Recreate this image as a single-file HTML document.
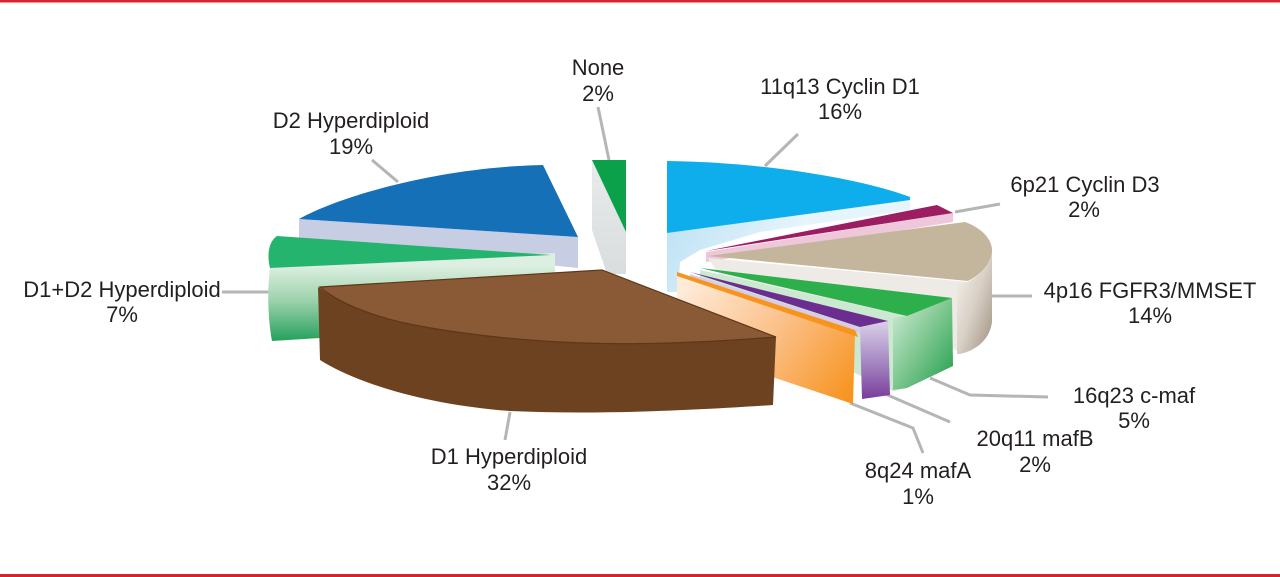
<!DOCTYPE html>
<html>
<head>
<meta charset="utf-8">
<style>
html,body{margin:0;padding:0;background:#fff;}
svg{display:block;}
text{font-family:"Liberation Sans",Arial,sans-serif;font-size:22px;fill:#231F20;text-anchor:middle;}
</style>
</head>
<body>
<svg width="1280" height="577" viewBox="0 0 1280 577" xmlns="http://www.w3.org/2000/svg">
<defs>
  <linearGradient id="g12side" gradientUnits="userSpaceOnUse" x1="0" y1="266" x2="0" y2="342">
    <stop offset="0" stop-color="#DCEFE0"/>
    <stop offset="0.45" stop-color="#9ED2AD"/>
    <stop offset="1" stop-color="#22A05A"/>
  </linearGradient>
  <linearGradient id="tanside" x1="0" y1="0" x2="1" y2="1">
    <stop offset="0" stop-color="#F8F5F1"/>
    <stop offset="0.5" stop-color="#D9D0C6"/>
    <stop offset="1" stop-color="#9E9080"/>
  </linearGradient>
  <linearGradient id="cmaf" x1="0" y1="0" x2="1" y2="1">
    <stop offset="0" stop-color="#D3ECD8"/>
    <stop offset="0.5" stop-color="#7CC68F"/>
    <stop offset="1" stop-color="#1E9D48"/>
  </linearGradient>
  <linearGradient id="purp" x1="0" y1="0" x2="0" y2="1">
    <stop offset="0" stop-color="#DCD0E8"/>
    <stop offset="0.5" stop-color="#A88BC4"/>
    <stop offset="1" stop-color="#7A3D9C"/>
  </linearGradient>
  <linearGradient id="orng" gradientUnits="userSpaceOnUse" x1="690" y1="280" x2="850" y2="400">
    <stop offset="0" stop-color="#FEEBD8"/>
    <stop offset="0.5" stop-color="#FBC088"/>
    <stop offset="1" stop-color="#F7931E"/>
  </linearGradient>
  <linearGradient id="lbside" gradientUnits="userSpaceOnUse" x1="667" y1="230" x2="760" y2="290">
    <stop offset="0" stop-color="#BFE3F5"/>
    <stop offset="1" stop-color="#E6F4FB"/>
  </linearGradient>
  <linearGradient id="noneside" x1="0" y1="0" x2="0" y2="1">
    <stop offset="0" stop-color="#E8EBEB"/>
    <stop offset="1" stop-color="#D9DDDD"/>
  </linearGradient>
</defs>

<rect width="1280" height="577" fill="#ffffff"/>
<rect x="0" y="0" width="1280" height="2.5" fill="#D7242B"/>
<rect x="0" y="574" width="1280" height="3" fill="#D7242B"/>

<!-- leader lines -->
<g stroke="#B5B5B5" stroke-width="3" fill="none">
  <line x1="598" y1="107" x2="609" y2="160"/>
  <line x1="798" y1="134" x2="765" y2="166"/>
  <line x1="955" y1="212" x2="1000" y2="204"/>
  <line x1="990" y1="296" x2="1032" y2="296"/>
  <polyline points="930,378 970,395 1048,397"/>
  <line x1="883" y1="393" x2="950" y2="422"/>
  <polyline points="850,403 913,428 923,453"/>
  <line x1="510" y1="412" x2="505" y2="440"/>
  <line x1="222" y1="292" x2="270" y2="292"/>
  <line x1="372" y1="160" x2="398" y2="182"/>
</g>

<!-- D2 Hyperdiploid (dark blue) -->
<polygon points="299,219 578,237 578,268 299,240" fill="#C7CEE4"/>
<path d="M299,219 C340,196 440,167 543,165 L578,237 Z" fill="#1570B8"/>

<!-- D1+D2 Hyperdiploid (green) -->
<path d="M270,268 L555,253 L555,276 L320,290 L320,338 L272,341 C268,320 267,290 270,268 Z" fill="url(#g12side)"/>
<path d="M277,236 L551,255 L270,268 C267,256 268,242 277,236 Z" fill="#25B46E"/>

<!-- None -->
<polygon points="592,160 626,232 626,274 607,274 592,230" fill="url(#noneside)"/>
<polygon points="592,160 626,160 626,232" fill="#0BA14B"/>

<!-- 11q13 Cyclin D1 -->
<polygon points="667,233 910,199 910,210 760,232 700,250 680,262 678,292 667,292" fill="url(#lbside)"/>
<path d="M667,161 C760,162 860,178 910,197 L910,200 L667,233 Z" fill="#0DAEEB"/>

<!-- 6p21 Cyclin D3 -->
<polygon points="706,252 953,213 953,222 706,262" fill="#EEC7DA"/>
<polygon points="706,251 937,205 953,213" fill="#9C1D62"/>

<!-- 4p16 FGFR3/MMSET -->
<polygon points="708,258 968,282 963,353 905,330 720,276" fill="#EEEAE5"/>
<path d="M957,283 L968,282 C980,275 990,265 992,252 L992,322 C990,338 978,350 960,354 L957,354 Z" fill="url(#tanside)"/>
<path d="M708,256 L965,222 C982,228 993,240 992,252 C990,265 980,275 968,281 Z" fill="#C4B69D"/>

<!-- 16q23 c-maf -->
<polygon points="700,270 907,316 907,388 893,391 700,300" fill="#CBE8D0"/>
<polygon points="893,318 907,316 952,298 953,366 907,388 893,390" fill="url(#cmaf)"/>
<polygon points="700,268 952,298 907,316" fill="#2DB04B"/>

<!-- 20q11 mafB -->
<polygon points="690,274 860,327 860,334 690,279" fill="#D8CCE5"/>
<polygon points="860,327 888,321 890,395 862,399" fill="url(#purp)"/>
<polygon points="690,272 888,321 860,327" fill="#6B2D90"/>

<!-- 8q24 mafA -->
<polygon points="677,274 855,334 853,404 677,345" fill="url(#orng)"/>
<polygon points="677,272 855,330 858,337 677,276" fill="#F7941D"/>

<!-- D1 Hyperdiploid (brown) -->
<path d="M318,287 L320,360 C360,385 430,405 510,411 C600,415 700,410 773,405 L776,337 C700,343 640,345 583,343 C520,341 450,333 400,322 C360,312 335,300 320,288 Z" fill="#6C4220"/>
<path d="M320,287 L602,270 L776,337 C700,343 640,345 583,343 C520,341 450,333 400,322 C360,312 335,300 320,287 Z" fill="#8A5A36" stroke="#5E3719" stroke-width="1.2"/>

<!-- labels -->
<text x="598" y="75">None</text>
<text x="598" y="101">2%</text>
<text x="840" y="94">11q13 Cyclin D1</text>
<text x="840" y="119">16%</text>
<text x="1085" y="192">6p21 Cyclin D3</text>
<text x="1084" y="217">2%</text>
<text x="1150" y="298">4p16 FGFR3/MMSET</text>
<text x="1150" y="323">14%</text>
<text x="1134" y="403">16q23 c-maf</text>
<text x="1134" y="428">5%</text>
<text x="1035" y="446">20q11 mafB</text>
<text x="1035" y="472">2%</text>
<text x="918" y="478">8q24 mafA</text>
<text x="918" y="504">1%</text>
<text x="509" y="464">D1 Hyperdiploid</text>
<text x="509" y="490">32%</text>
<text x="122" y="297">D1+D2 Hyperdiploid</text>
<text x="122" y="322">7%</text>
<text x="351" y="128">D2 Hyperdiploid</text>
<text x="351" y="154">19%</text>
</svg>
</body>
</html>
